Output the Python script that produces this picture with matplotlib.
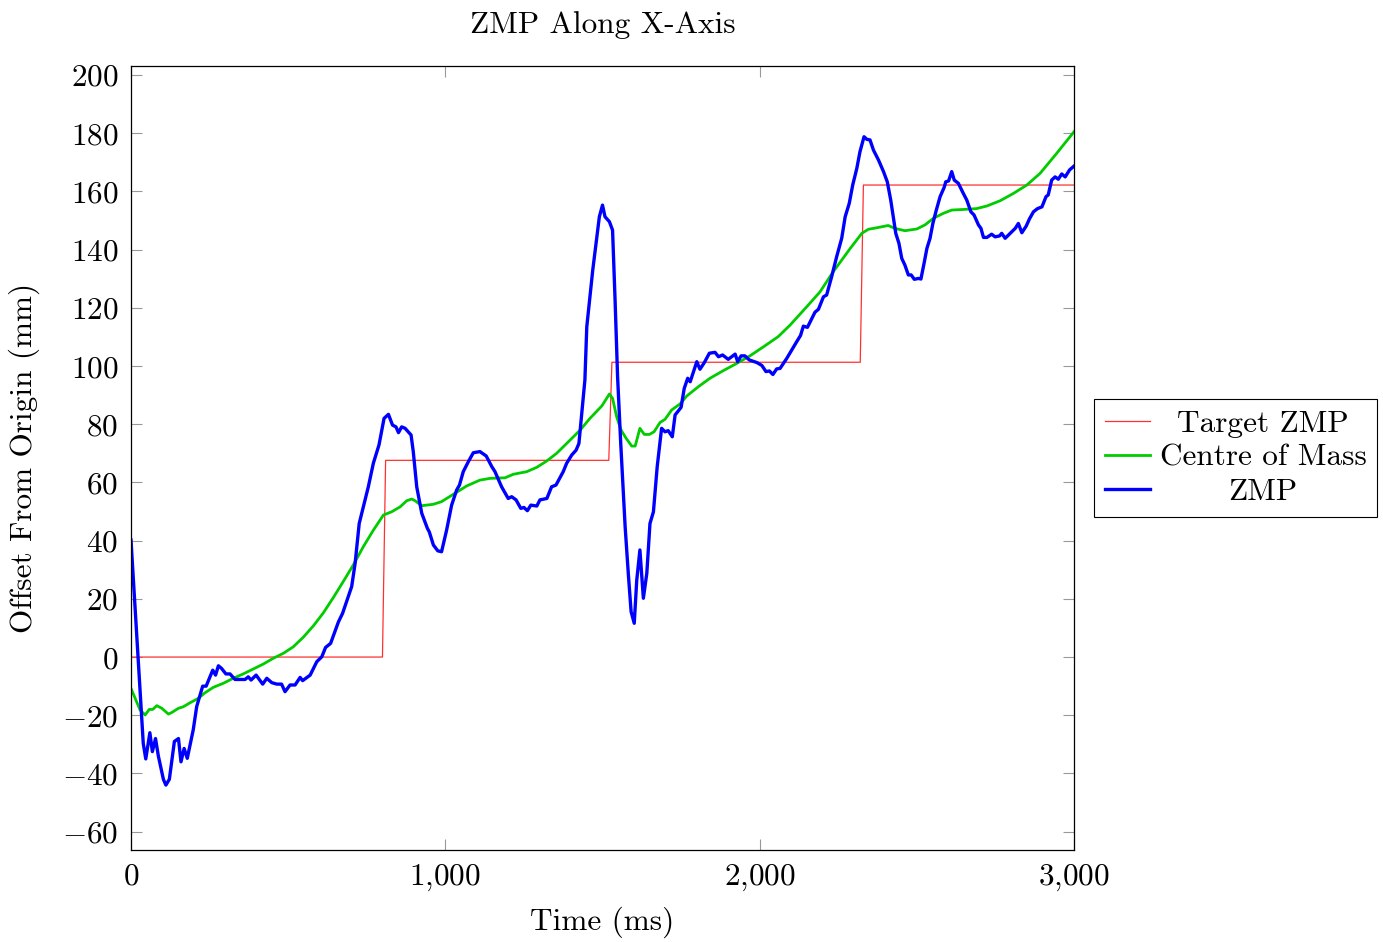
import numpy as np
import matplotlib
matplotlib.use("Agg")
import matplotlib.pyplot as plt

plt.rcParams['font.family'] = ['cmr10', 'DejaVu Serif']
plt.rcParams['mathtext.fontset'] = 'cm'
plt.rcParams['axes.unicode_minus'] = False

# target ZMP (step function)
t_target = [0, 800, 810, 1520, 1530, 2320, 2330, 3000]
target = [0, 0, 67.6, 67.6, 101.3, 101.3, 162.2, 162.2]

# centre of mass
t_com = [0, 29, 45, 58, 69, 82, 98, 119, 129, 151, 166, 188, 214, 235, 262, 294,
         325, 357, 389, 421, 453, 485, 516, 548, 580, 612, 644, 675, 707, 739, 771,
         803, 829, 856, 877, 893, 904, 925, 962, 988, 1025, 1068, 1110, 1142, 1190,
         1216, 1259, 1291, 1323, 1354, 1386, 1429, 1460, 1498, 1522, 1532, 1545,
         1559, 1575, 1593, 1604, 1619, 1633, 1649, 1664, 1683, 1699, 1720, 1747,
         1768, 1805, 1842, 1884, 1927, 1969, 2012, 2059, 2097, 2150, 2192, 2234,
         2288, 2325, 2346, 2372, 2409, 2430, 2462, 2500, 2526, 2553, 2585, 2611,
         2648, 2690, 2723, 2765, 2807, 2850, 2892, 2945, 3000]
com = [-10.8, -18.2, -19.9, -18, -18, -16.7, -17.6, -19.6, -19.1, -17.6, -17.1, -15.7,
       -14.2, -12.3, -10.4, -9, -7.3, -5.8, -4.1, -2.4, -0.4, 1.3, 3.5, 6.8, 10.7,
       15.2, 20.5, 25.9, 31.6, 37.9, 43.6, 48.8, 49.9, 51.6, 53.7, 54.3, 53.7, 52,
       52.5, 53.4, 55.9, 58.8, 60.8, 61.4, 61.6, 62.8, 63.7, 65.2, 67.4, 70, 73.4,
       78, 82, 86.3, 90.4, 88.9, 82.6, 78, 75.2, 72.5, 72.5, 78.6, 76.5, 76.5, 77.4,
       80.6, 81.7, 84.9, 87, 89.7, 92.9, 95.8, 98.4, 100.9, 103.5, 106.6, 110.1,
       114.1, 120.4, 125.5, 132.4, 140.4, 145.6, 147, 147.5, 148.3, 147.3, 146.5,
       147.1, 148.5, 150.8, 152.5, 153.6, 153.8, 154.1, 155, 156.8, 159.3, 162.2,
       166.2, 173.1, 180.5]

# measured ZMP
t_zmp = [0, 39, 47, 60, 68, 78, 87, 103, 111, 122, 138, 151, 159, 169, 179, 198, 209,
         228, 239, 260, 269, 278, 288, 302, 315, 331, 363, 373, 382, 398, 419, 432,
         448, 464, 479, 490, 506, 522, 538, 546, 570, 591, 607, 619, 635, 660, 673,
         702, 713, 726, 755, 771, 789, 805, 819, 832, 843, 851, 861, 872, 891, 898,
         909, 925, 943, 949, 962, 976, 988, 1004, 1020, 1036, 1045, 1057, 1073, 1089,
         1110, 1130, 1148, 1158, 1179, 1200, 1211, 1225, 1240, 1250, 1261, 1272,
         1291, 1301, 1323, 1338, 1352, 1375, 1386, 1402, 1416, 1425, 1434, 1444,
         1450, 1469, 1490, 1500, 1508, 1522, 1532, 1540, 1548, 1558, 1572, 1582,
         1591, 1601, 1609, 1619, 1630, 1641, 1651, 1662, 1674, 1688, 1699, 1709,
         1722, 1731, 1750, 1760, 1771, 1779, 1800, 1810, 1824, 1840, 1858, 1869,
         1882, 1900, 1922, 1930, 1941, 1953, 1967, 1991, 2007, 2020, 2031, 2042,
         2054, 2065, 2086, 2102, 2118, 2130, 2139, 2152, 2176, 2187, 2203, 2213,
         2229, 2245, 2261, 2272, 2285, 2296, 2309, 2319, 2332, 2341, 2351, 2362,
         2378, 2394, 2406, 2417, 2425, 2433, 2443, 2452, 2462, 2473, 2482, 2492,
         2505, 2513, 2523, 2532, 2542, 2551, 2562, 2574, 2587, 2592, 2601, 2611,
         2619, 2632, 2648, 2659, 2672, 2682, 2696, 2704, 2712, 2723, 2738, 2749,
         2763, 2770, 2781, 2797, 2813, 2823, 2834, 2848, 2858, 2871, 2884, 2898,
         2911, 2918, 2929, 2940, 2950, 2961, 2972, 2986, 3000]
zmp = [40.2, -29.7, -35, -26, -32.5, -28, -34, -42, -44, -42, -29, -28, -36, -31.4,
       -34.8, -25, -17, -10, -10, -4.5, -6.2, -3, -3.9, -5.8, -5.8, -7.7, -7.7, -6.8,
       -7.9, -6.2, -9.3, -7.3, -8.8, -9.3, -9.3, -11.9, -9.6, -9.6, -7, -8.1, -6.2,
       -1.6, 0.1, 3.3, 4.7, 12.1, 15, 24.2, 32.2, 45.9, 58.5, 66.6, 72.9, 82, 83.4,
       79.7, 79.1, 77.1, 79.1, 78.6, 76.3, 70.6, 58.5, 49.4, 44.2, 43, 38.5, 36.5,
       36.2, 43.6, 52.2, 57.4, 59.1, 63.7, 67.1, 70.2, 70.6, 69.1, 65.4, 63.7, 58.5,
       54.5, 55.1, 54, 51.1, 51.4, 50.3, 52.2, 51.9, 54, 54.5, 58.5, 59.1, 63.7,
       66.6, 69.4, 71.1, 73.4, 83.7, 95.2, 113.5, 133, 151.3, 155.3, 151.3, 149.6,
       146.7, 122.7, 96.3, 73.4, 44.8, 28.8, 15.6, 11.6, 26.5, 36.8, 20.2, 28.8,
       45.9, 49.9, 65.4, 78.6, 77.4, 77.8, 75.7, 83.2, 85.8, 92.3, 95.8, 94.6,
       101.5, 98.9, 101.2, 104.4, 104.7, 103.2, 103.8, 102.3, 104.1, 101.5, 103.5,
       103.5, 102.1, 101.2, 100.2, 98.1, 98.3, 97.1, 99, 99.2, 102.6, 105.5, 108.4,
       110.5, 113.7, 113.3, 118.5, 119.5, 123.8, 124.4, 130.7, 137.6, 143.9, 151.3,
       155.9, 162.2, 167.9, 173.6, 178.8, 177.9, 177.7, 174.2, 170.8, 166.8, 163.3,
       157, 151.3, 145.6, 142.2, 137, 134.7, 131.3, 131.3, 129.8, 130.1, 129.9,
       135.3, 140.4, 143.9, 149, 153.6, 158.2, 161.4, 163.3, 163.6, 166.8, 163.9,
       162.8, 159.3, 157, 153, 151.9, 148.5, 147.3, 144.2, 144.2, 145.3, 144.4,
       144.7, 145.6, 143.9, 145.6, 147.3, 149, 145.8, 148.1, 150.5, 153, 154.1,
       154.7, 158.2, 158.8, 163.9, 165, 164.2, 166, 165, 167.4, 168.7]

xticks = [0, 1000, 2000, 3000]
xtick_labels = ['$0$', '$1{,}000$', '$2{,}000$', '$3{,}000$']
yticks = list(range(-60, 201, 20))

fs = 22.5
fig = plt.figure(figsize=(13.83, 9.42), dpi=100)
ax = fig.add_axes([131/1383, 1-850/942, (1074-131)/1383, (850-66)/942])

ax.plot(t_target, target, color='#ff3030', lw=0.9, label='Target ZMP')
ax.plot(t_com, com, color='#00cc00', lw=2.0, label='Centre of Mass')
ax.plot(t_zmp, zmp, color='#0000ff', lw=2.4, label='ZMP')

ax.set_xlim(0, 3000)
ax.set_ylim(-66.3, 203.1)
ax.set_xticks(xticks)
ax.set_xticklabels(xtick_labels)
ax.set_yticks(yticks)
ax.set_yticklabels(['$%d$' % v if v >= 0 else '$-%d$' % -v for v in yticks])
ax.tick_params(direction='in', length=8, width=0.8, color='#999999',
               top=True, right=True, labelsize=fs, pad=9)
for s in ax.spines.values():
    s.set_linewidth(0.9)

ax.set_title('ZMP Along X-Axis', fontsize=fs, pad=24)
ax.set_xlabel('Time (ms)', fontsize=fs, labelpad=10)
ax.set_ylabel('Offset From Origin (mm)', fontsize=fs, labelpad=16)

leg = ax.legend(loc='center left', bbox_to_anchor=(1 + 20/943, 0.5), borderaxespad=0,
                fontsize=fs, frameon=True, fancybox=False, edgecolor='black',
                framealpha=1, handlelength=1.45, handletextpad=0.3, labelspacing=0.2,
                borderpad=0.35)
leg.get_frame().set_linewidth(0.8)

# centre legend texts like pgfplots
fig.canvas.draw()
texts = leg.get_texts()
widths = [t.get_window_extent().width for t in texts]
wmax = max(widths)
for t, w in zip(texts, widths):
    t.set_position(((wmax - w) / 2, 0))

fig.savefig('out.png', dpi=100)
